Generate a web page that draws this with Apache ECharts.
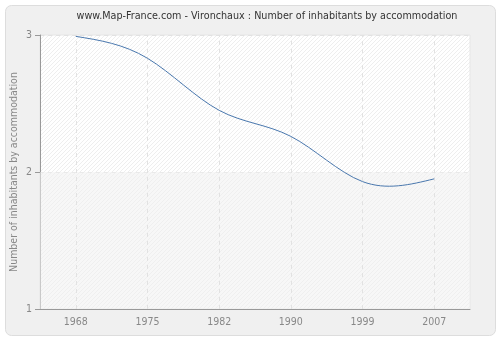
<!DOCTYPE html>
<html><head><meta charset="utf-8">
<script src="https://cdn.jsdelivr.net/npm/echarts@6/dist/echarts.min.js"></script>
<style>html,body{margin:0;padding:0;background:#fff}#c{width:500px;height:340px}</style>
</head><body><div id="c"></div>
<script>
const titleText = 'www.Map-France.com - Vironchaux : Number of inhabitants by accommodation';
const yAxisName = 'Number of inhabitants by accommodation';
const categories = ['1968', '1975', '1982', '1990', '1999', '2007'];
const values = [2.99, 2.83, 2.45, 2.26, 1.93, 1.95];
const yTicks = [1, 2, 3];

function hatch(bg, line) {
  const s = 4;
  const c = document.createElement('canvas');
  c.width = s; c.height = s;
  const g = c.getContext('2d');
  g.fillStyle = bg; g.fillRect(0, 0, s, s);
  g.strokeStyle = line; g.lineWidth = 1;
  g.beginPath();
  g.moveTo(0, s); g.lineTo(s, 0);
  g.moveTo(-s / 2, s / 2); g.lineTo(s / 2, -s / 2);
  g.moveTo(s / 2, s * 1.5); g.lineTo(s * 1.5, s / 2);
  g.stroke();
  return { image: c, repeat: 'repeat' };
}

// natural cubic spline through pixel points -> bezier segments
function splineSegments(pts) {
  const n = pts.length;
  const y = pts.map(p => p[1]);
  const M = new Array(n).fill(0);
  if (n > 2) {
    const a = [], b = [], c = [], d = [];
    for (let i = 1; i < n - 1; i++) {
      a.push(1); b.push(4); c.push(1);
      d.push(6 * (y[i + 1] - 2 * y[i] + y[i - 1]));
    }
    const m = d.length;
    for (let i = 1; i < m; i++) {
      const w = a[i] / b[i - 1];
      b[i] -= w * c[i - 1];
      d[i] -= w * d[i - 1];
    }
    const sol = new Array(m);
    sol[m - 1] = d[m - 1] / b[m - 1];
    for (let i = m - 2; i >= 0; i--) sol[i] = (d[i] - c[i] * sol[i + 1]) / b[i];
    for (let i = 0; i < m; i++) M[i + 1] = sol[i];
  }
  const segs = [];
  for (let i = 0; i < n - 1; i++) {
    const dy = y[i + 1] - y[i];
    const m0 = dy - (2 * M[i] + M[i + 1]) / 6;
    const m1 = dy + (M[i] + 2 * M[i + 1]) / 6;
    const dx = pts[i + 1][0] - pts[i][0];
    segs.push({
      x1: pts[i][0], y1: pts[i][1],
      cpx1: pts[i][0] + dx / 3, cpy1: pts[i][1] + m0 / 3,
      cpx2: pts[i + 1][0] - dx / 3, cpy2: pts[i + 1][1] - m1 / 3,
      x2: pts[i + 1][0], y2: pts[i + 1][1]
    });
  }
  return segs;
}

const chart = echarts.init(document.getElementById('c'), null, { renderer: 'canvas' });
const font = '"DejaVu Sans Condensed", "DejaVu Sans", Verdana, sans-serif';
chart.setOption({
  backgroundColor: '#fff',
  animation: false,
  graphic: [{
    type: 'rect', left: 5, top: 5, z: -10,
    shape: { width: 490, height: 330, r: 6 },
    style: { fill: '#f0f0f0', stroke: '#dddddd', lineWidth: 1 }
  }],
  title: {
    text: titleText, left: 262, top: 6, textAlign: 'center',
    textStyle: { fontFamily: font, fontSize: 10.7, fontWeight: 'normal', color: '#333' }
  },
  grid: {
    left: 40, right: 30, top: 35, bottom: 31, show: true,
    outerBoundsMode: 'none', containLabel: false,
    backgroundColor: hatch('#ffffff', '#eeeeee'),
    borderWidth: 1, borderColor: '#e6e6e6'
  },
  xAxis: {
    type: 'category', data: categories, boundaryGap: true,
    axisLine: { lineStyle: { color: '#999' } },
    axisTick: { alignWithLabel: true, length: 5, lineStyle: { color: '#999' } },
    axisLabel: { color: '#888', fontFamily: font, fontSize: 10.5, margin: 8 },
    splitLine: { show: false }
  },
  yAxis: {
    type: 'value', min: yTicks[0], max: yTicks[yTicks.length - 1], interval: 1,
    name: yAxisName, nameLocation: 'middle', nameGap: 20, nameMoveOverlap: false,
    nameTextStyle: { color: '#888', fontFamily: font, fontSize: 10.5 },
    axisLine: { show: true, lineStyle: { color: '#999' } },
    axisTick: { show: true, length: 5, lineStyle: { color: '#999' } },
    axisLabel: { color: '#888', fontFamily: font, fontSize: 10.5, margin: 8 },
    splitLine: { show: true, lineStyle: { color: '#e2e2e2', type: [4, 4] } }
  },
  series: [{
    type: 'line', data: values, symbol: 'none', silent: true,
    lineStyle: { opacity: 0 },
    markLine: {
      silent: true, symbol: 'none', label: { show: false },
      lineStyle: { color: '#e2e2e2', type: [4, 4], width: 1 },
      data: categories.map(c => ({ xAxis: c }))
    },
    markArea: {
      silent: true,
      itemStyle: { color: 'rgba(240,240,240,0.55)' },
      data: [[{ yAxis: yTicks[0] }, { yAxis: yTicks[1] }]]
    }
  }, {
    type: 'custom', coordinateSystem: 'cartesian2d', silent: true, z: 5,
    data: values.map((v, i) => [i, v]),
    encode: { x: 0, y: 1 },
    renderItem: function (params, api) {
      if (params.dataIndex !== 0) return null;
      const pts = values.map((v, i) => api.coord([i, v]));
      const segs = splineSegments(pts);
      return {
        type: 'group',
        children: segs.map(s => ({
          type: 'bezierCurve', shape: s,
          style: { fill: null, stroke: '#4a78ae', lineWidth: 1 }
        }))
      };
    }
  }]
});
</script></body></html>
